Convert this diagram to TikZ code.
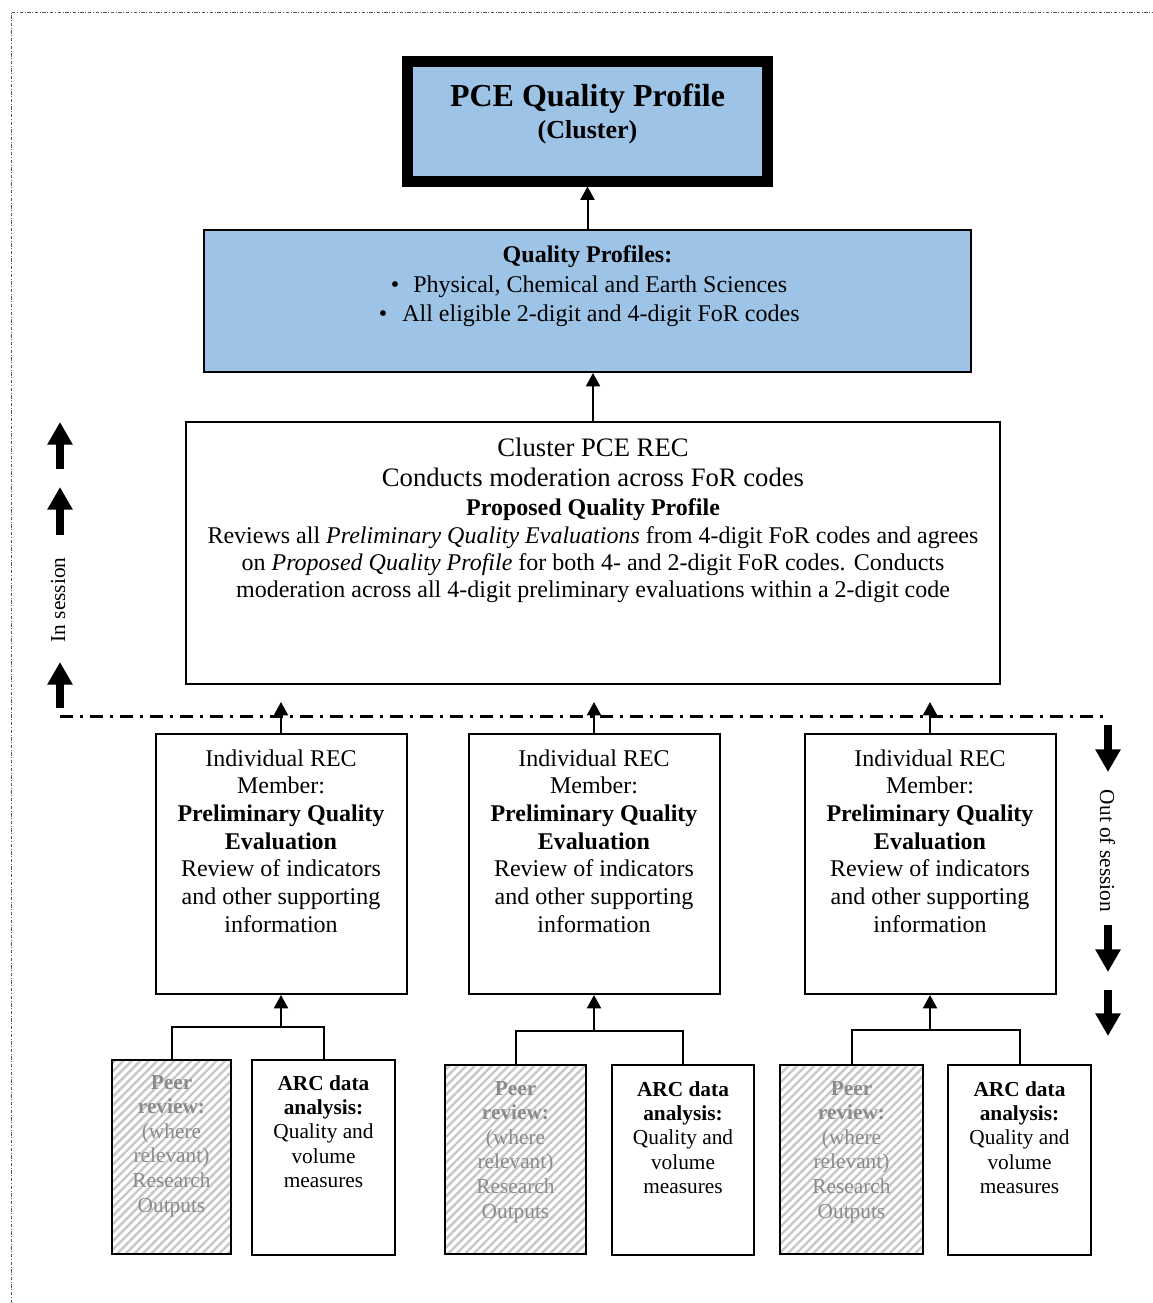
\documentclass[tikz,border=0pt]{standalone}
\usepackage{fontspec}
\setmainfont{Liberation Serif}
\usetikzlibrary{arrows.meta,patterns.meta,calc}
\definecolor{profileblue}{HTML}{9DC3E6}
\definecolor{peergray}{HTML}{8C8C8C}
\begin{document}
\begin{tikzpicture}[x=0.75pt,y=-0.75pt,
  box/.style={draw, line width=1.5pt, inner sep=0pt, rectangle},
  txt/.style={inner sep=0pt, anchor=base},
  conn/.style={line width=1.5pt, -{Triangle[width=10.5pt,length=10pt]}},
  bracket/.style={line width=1.5pt},
  bigarrow/.style={line width=6pt, -{Triangle[width=18pt,length=17pt]}},
  sessionline/.style={line width=2.25pt, dash pattern=on 10pt off 5pt on 2.5pt off 5pt},
  pageframe/.style={line width=0.75pt, draw=black!65, dash pattern=on 2.5pt off 1.2pt on 0.8pt off 1.2pt},
  hatched/.style={fill=black!6, pattern={Lines[angle=45,distance=4.5pt,line width=1.8pt]}, pattern color=black!22},
  f24/.style={font=\fontsize{18}{21}\selectfont},
  f24b/.style={font=\fontsize{18}{21}\selectfont\bfseries},
  f21/.style={font=\fontsize{16}{19}\selectfont},
]
\useasboundingbox (0,0) rectangle (1153,1303);

% page frame
\draw[pageframe] (11,1303) -- (11,12) -- (1153,12);

% cluster quality profile
\node[box, line width=8.25pt, fill=profileblue,
      minimum width={360*0.75pt}, minimum height={120*0.75pt}] (top) at (587.5,121) {};
\node[txt, font=\fontsize{24}{28}\selectfont\bfseries] (topa) at (587.5,106) {PCE Quality Profile};
\node[txt, font=\fontsize{19.5}{23}\selectfont\bfseries] (topb) at (587.5,138) {(Cluster)};

% quality profiles
\node[box, fill=profileblue,
      minimum width={767*0.75pt}, minimum height={142*0.75pt}] (qp) at (587.5,301) {};
\node[txt, f24b] (qpa) at (587.5,262) {Quality Profiles:};
\node[txt, f24] (qpb1) at (395,292) {•};
\node[txt, f24, anchor=base west] (qpb) at (413,292) {Physical, Chemical and Earth Sciences};
\node[txt, f24] (qpc1) at (383,321) {•};
\node[txt, f24, anchor=base west] (qpc) at (402,321) {All eligible 2-digit and 4-digit FoR codes};

% cluster REC
\node[box, minimum width={814*0.75pt}, minimum height={262*0.75pt}] (rec) at (593,553) {};
\node[txt, font=\fontsize{20}{24}\selectfont] (reca) at (593,456) {Cluster PCE REC};
\node[txt, font=\fontsize{20}{24}\selectfont] (recb) at (593,486) {Conducts moderation across FoR codes};
\node[txt, f24b] (recc) at (593,515) {Proposed Quality Profile};
\node[txt, f24] (recd) at (593,543) {Reviews all \textit{Preliminary Quality Evaluations} from 4-digit FoR codes and agrees};
\node[txt, f24] (rece) at (593,570) {on \textit{Proposed Quality Profile} for both 4- and 2-digit FoR codes. Conducts};
\node[txt, f24] (recf) at (593,597) {moderation across all 4-digit preliminary evaluations within a 2-digit code};

\draw[conn] (qp.north) -- (top.south);
\draw[conn] (rec.north) -- (rec.north |- qp.south);

% session boundary
\draw[sessionline] (60,716) -- (1108,716);

% in session / out of session markers
\draw[bigarrow] (60,469) -- (60,422);
\draw[bigarrow] (60,535) -- (60,487);
\draw[bigarrow] (60,708) -- (60,662);
\node[txt, f21, rotate=90] (insess) at (65,600) {In session};
\draw[bigarrow] (1108,725) -- (1108,772);
\draw[bigarrow] (1108,925) -- (1108,972);
\draw[bigarrow] (1108,990) -- (1108,1036);
\node[txt, f21, rotate=-90] (outsess) at (1100,851) {Out of session};

% individual members and their inputs
\foreach \i/\cx/\pl/\pr/\al/\ar/\jy/\bt/\off in {
  1/281/111/232/251/396/1027/1059/0,
  2/594/444/587/611/755/1031/1064/6,
  3/930/779/924/947/1092/1030/1064/6}
{
  \node[box, minimum width={251*0.75pt}, minimum height={260*0.75pt}] (mem\i) at (\cx,864) {};
  \foreach \ln [count=\k] in {Individual REC, Member:, \textbf{Preliminary Quality}, \textbf{Evaluation},
      Review of indicators, and other supporting, information}
    \node[txt, f24] (mem\i-\k) at ({\cx},{766+(\k-1)*27.7}) {\ln};
  \coordinate (memin\i) at (\cx,702);
  \draw[conn] (mem\i.north) -- (memin\i);

  \node[box, hatched, minimum width={(\pr-\pl-2)*0.75pt}, minimum height={(1255-\bt-2)*0.75pt}]
      (peer\i) at ({(\pl+\pr)/2},{(\bt+1255)/2}) {};
  \foreach \ln [count=\k] in {\textbf{Peer}, \textbf{review:}, {(where}, {relevant)}, Research, Outputs}
    \node[txt, f21, text=peergray] (peer\i-\k) at ({(\pl+\pr)/2},{1089+\off+(\k-1)*24.6}) {\ln};

  \node[box, minimum width={(\ar-\al-2)*0.75pt}, minimum height={(1256-\bt-2)*0.75pt}]
      (arc\i) at ({(\al+\ar)/2},{(\bt+1256)/2}) {};
  \foreach \ln [count=\k] in {\textbf{ARC data}, \textbf{analysis:}, Quality and, volume, measures}
    \node[txt, f21] (arc\i-\k) at ({(\al+\ar)/2},{1090+\off+(\k-1)*24.4}) {\ln};

  \coordinate (join\i) at (\cx,\jy);
  \draw[bracket] (peer\i.north) -- (peer\i.north |- join\i) -- (arc\i.north |- join\i) -- (arc\i.north);
  \draw[conn] (join\i) -- (mem\i.south);
}
\end{tikzpicture}
\end{document}
